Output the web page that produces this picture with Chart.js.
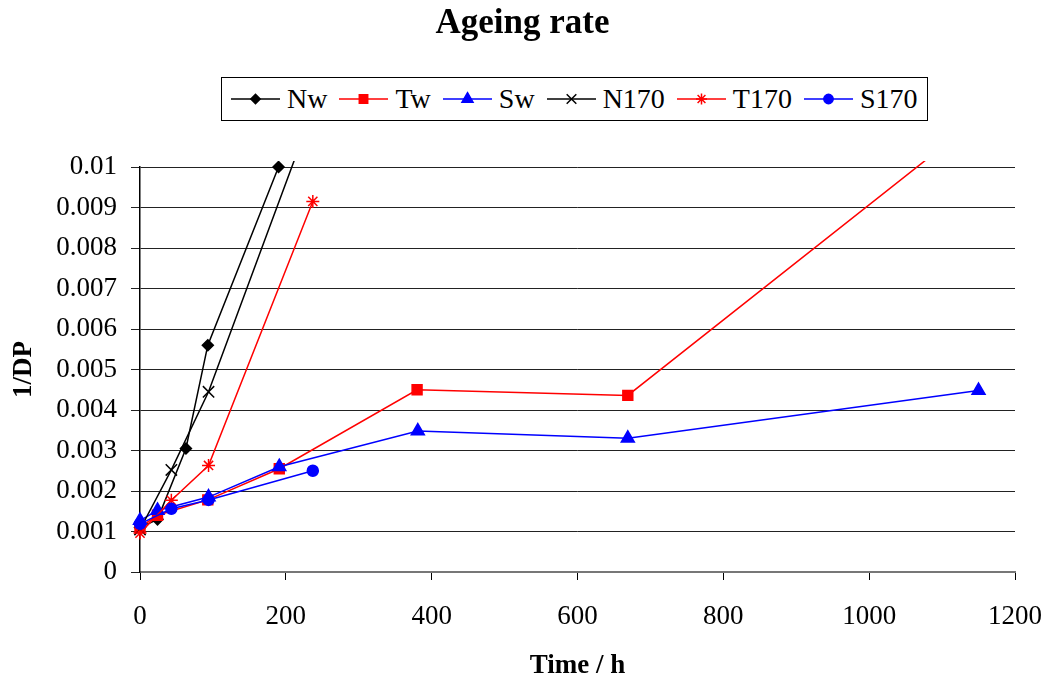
<!DOCTYPE html>
<html>
<head>
<meta charset="utf-8">
<title>Ageing rate</title>
<script src="https://cdn.jsdelivr.net/npm/chart.js@4.4.1/dist/chart.umd.min.js"></script>
<style>
  html, body { margin: 0; padding: 0; background: #fff; }
  #wrap { position: relative; width: 1045px; height: 682px; font-family: 'Liberation Serif', 'Times New Roman', serif; color: #000; }
  #chart { position: absolute; left: 0; top: 0; }
  #title { position: absolute; left: 0; top: 2px; width: 1045px; text-align: center; font-size: 35px; font-weight: bold; line-height: 40px; }
  #legend { position: absolute; left: 221px; top: 77px; height: 44px; box-sizing: border-box; border: 1.5px solid #000;
            display: flex; align-items: center; padding: 0 9px; background: #fff; font-size: 28px; line-height: 1; }
  .item { display: flex; align-items: center; margin-right: 12px; }
  .item:last-child { margin-right: 0; }
  .item canvas { margin-right: 7px; }
</style>
</head>
<body>
<div id="wrap">
  <canvas id="chart" width="1045" height="682"></canvas>
  <div id="title">Ageing rate</div>
  <div id="legend"></div>
</div>
<script>
/* ---------- data (time in hours, ageing rate 1/DP) ---------- */
const nwTime   = [0, 24, 63, 93, 190];
const nwRate   = [0.0011, 0.0013, 0.00305, 0.0056, 0.0100];

const twTime   = [0, 24, 93, 191, 380, 669, 1150];
const twRate   = [0.0011, 0.0014, 0.00178, 0.00255, 0.0045, 0.00436, 0.0112];

const swTime   = [0, 24, 94, 191, 381, 669, 1150];
const swRate   = [0.00127, 0.00152, 0.00185, 0.0026, 0.00348, 0.0033, 0.00448];

const n170Time = [0, 43, 94, 237];
const n170Rate = [0.00105, 0.00252, 0.00445, 0.0114];

const t170Time = [0, 43, 94, 237];
const t170Rate = [0.00096, 0.00177, 0.00263, 0.00915];

const s170Time = [0, 43, 94, 237];
const s170Rate = [0.00119, 0.00156, 0.00178, 0.0025];

const xTicks = [0, 200, 400, 600, 800, 1000, 1200];
const yTicks = [0, 0.001, 0.002, 0.003, 0.004, 0.005, 0.006, 0.007, 0.008, 0.009, 0.01];

const seriesNames = ['Nw', 'Tw', 'Sw', 'N170', 'T170', 'S170'];
const seriesTimes = [nwTime, twTime, swTime, n170Time, t170Time, s170Time];
const seriesRates = [nwRate, twRate, swRate, n170Rate, t170Rate, s170Rate];

/* ---------- styles ---------- */
const seriesColors = ['#000000', '#ff0000', '#0000ff', '#000000', '#ff0000', '#0000ff'];
const seriesPoints = ['rectRot', 'rect', 'triangle', 'crossRot', 'star', 'circle'];
const seriesRadius = [5.5, 7, 7.5, 8, 6.5, 5.5];

const serif = "'Liberation Serif', 'Times New Roman', serif";
Chart.defaults.font.family = serif;
Chart.defaults.color = '#000';

const datasets = seriesNames.map((name, i) => ({
  label: name,
  data: seriesTimes[i].map((t, k) => ({ x: t, y: seriesRates[i][k] })),
  borderColor: seriesColors[i],
  backgroundColor: seriesColors[i],
  borderWidth: 1.5,
  pointStyle: seriesPoints[i],
  pointRadius: seriesRadius[i],
  pointBorderWidth: 1.5,
  showLine: true,
  tension: 0,
  order: seriesNames.length - i,
  clip: { left: 10, top: 6, right: 10, bottom: 10 }
}));

new Chart(document.getElementById('chart'), {
  type: 'scatter',
  data: { datasets },
  options: {
    responsive: false,
    animation: false,
    devicePixelRatio: 1,
    layout: { padding: { top: 167, left: 0, right: 30, bottom: 0 } },
    plugins: { legend: { display: false }, title: { display: false }, tooltip: { enabled: false } },
    scales: {
      x: {
        type: 'linear',
        min: 0, max: 1200,
        afterBuildTicks: s => { s.ticks = xTicks.map(v => ({ value: v })); },
        afterFit: s => { s.height = 110; s.paddingLeft = 0; s.paddingRight = 0; },
        ticks: { font: { family: serif, size: 27 }, color: '#000', padding: 21, maxRotation: 0, callback: v => String(v) },
        grid: { drawOnChartArea: false, drawTicks: true, tickLength: 8, color: '#000', lineWidth: 1 },
        border: { display: true, color: '#777', width: 2 },
        title: { display: true, text: 'Time / h', font: { family: serif, size: 27, weight: 'bold' }, padding: { top: 0, bottom: 0 } }
      },
      y: {
        min: 0, max: 0.01,
        afterBuildTicks: s => { s.ticks = yTicks.map(v => ({ value: v })); },
        afterFit: s => { s.width = 140; s.paddingTop = 0; s.paddingBottom = 0; },
        ticks: { font: { family: serif, size: 27 }, color: '#000', padding: 14, callback: v => String(parseFloat(v.toFixed(4))) },
        grid: { color: '#222', lineWidth: 1, tickLength: 9 },
        border: { display: true, color: '#000', width: 1.5 },
        title: { display: true, text: '1/DP', font: { family: serif, size: 27, weight: 'bold' }, padding: { top: 8, bottom: 0 } }
      }
    }
  }
});

/* ---------- legend (line + marker swatch, like the original) ---------- */
const legendEl = document.getElementById('legend');
seriesNames.forEach((name, i) => {
  const item = document.createElement('div');
  item.className = 'item';
  const sw = document.createElement('canvas');
  sw.width = 49; sw.height = 24;
  const ctx = sw.getContext('2d');
  ctx.strokeStyle = seriesColors[i];
  ctx.fillStyle = seriesColors[i];
  ctx.lineWidth = 1.5;
  ctx.beginPath(); ctx.moveTo(0, 12); ctx.lineTo(49, 12); ctx.stroke();
  if (Chart.helpers && Chart.helpers.drawPoint) {
    Chart.helpers.drawPoint(ctx, { pointStyle: seriesPoints[i], rotation: 0, radius: seriesRadius[i] * 0.85, borderWidth: 1.5 }, 24.5, 12);
  }
  const txt = document.createElement('span');
  txt.textContent = name;
  item.appendChild(sw);
  item.appendChild(txt);
  legendEl.appendChild(item);
});
</script>
</body>
</html>
